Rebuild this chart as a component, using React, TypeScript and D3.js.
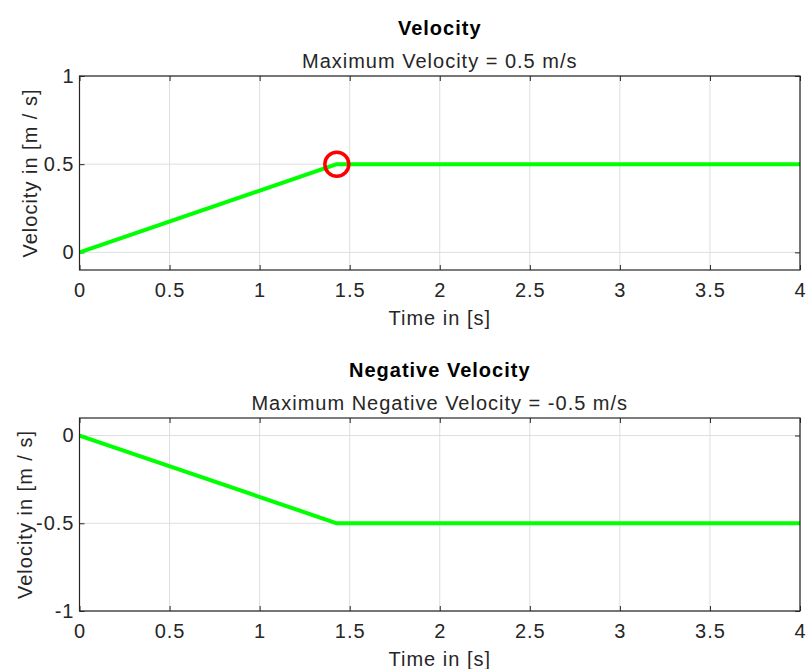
import * as d3 from "d3"
import React, { useRef, useEffect } from 'react';

// data
const timePts = [0, 1.4286, 4];
const velPos = [0, 0.5, 0.5];
const velNeg = [0, -0.5, -0.5];
const peakT = 1.4286;
const peakV = 0.5;
const xTicks = [0, 0.5, 1, 1.5, 2, 2.5, 3, 3.5, 4];
const yTicksTop = [0, 0.5, 1];
const yTicksBottom = [-1, -0.5, 0];

const W = 808;
const H = 669;
const FONT = "'Liberation Sans', Arial, Helvetica, sans-serif";
const TXT = '#262626';

interface PanelCfg {
    top: number;
    bottom: number;
    yDomain: [number, number];
    yTicks: number[];
    values: number[];
    title: string;
    subtitle: string;
    marker: boolean;
    ylabelX: number;
}

const App: React.FC = () => {
    const svgRef = useRef<SVGSVGElement | null>(null);

    useEffect(() => {
        const svg = d3.select(svgRef.current);
        svg.selectAll('*').remove();
        svg.append('rect').attr('width', W).attr('height', H).attr('fill', '#fff');

        const l = 79.5;
        const r = 800;
        const x = d3.scaleLinear().domain([0, 4]).range([l, r]);

        const panels: PanelCfg[] = [
            { top: 76, bottom: 270, yDomain: [-0.1, 1], yTicks: yTicksTop, values: velPos,
              title: 'Velocity', subtitle: 'Maximum Velocity = 0.5 m/s', marker: true, ylabelX: 37 },
            { top: 418, bottom: 611, yDomain: [-1, 0.1], yTicks: yTicksBottom, values: velNeg,
              title: 'Negative Velocity', subtitle: 'Maximum Negative Velocity = -0.5 m/s', marker: false, ylabelX: 32 },
        ];

        panels.forEach((p) => {
            const y = d3.scaleLinear().domain(p.yDomain).range([p.bottom, p.top]);
            const g = svg.append('g');
            const cx = (l + r) / 2;

            // grid
            g.selectAll('.gx').data(xTicks).enter().append('line')
                .attr('x1', d => x(d)).attr('x2', d => x(d))
                .attr('y1', p.top).attr('y2', p.bottom)
                .attr('stroke', '#dedede').attr('stroke-width', 1);
            g.selectAll('.gy').data(p.yTicks).enter().append('line')
                .attr('x1', l).attr('x2', r)
                .attr('y1', d => y(d)).attr('y2', d => y(d))
                .attr('stroke', '#dedede').attr('stroke-width', 1);

            // axes (ticks point inward)
            const styleAxis = (a: d3.Selection<SVGGElement, unknown, null, undefined>) => {
                a.select('.domain').remove();
                a.selectAll('line').attr('stroke', TXT);
                a.selectAll('text').attr('fill', TXT).style('font-family', FONT)
                    .style('font-size', '20px').style('letter-spacing', '1px');
            };
            const xb = g.append('g').attr('transform', `translate(0,${p.bottom})`)
                .call(d3.axisBottom(x).tickValues(xTicks).tickSizeInner(-5).tickSizeOuter(0)
                    .tickPadding(13).tickFormat(d => String(d)));
            styleAxis(xb);
            const xt = g.append('g').attr('transform', `translate(0,${p.top})`)
                .call(d3.axisTop(x).tickValues(xTicks).tickSizeInner(-5).tickSizeOuter(0).tickFormat(() => ''));
            styleAxis(xt);
            const yl = g.append('g').attr('transform', `translate(${l},0)`)
                .call(d3.axisLeft(y).tickValues(p.yTicks).tickSizeInner(-5).tickSizeOuter(0)
                    .tickPadding(5).tickFormat(d => String(d)));
            styleAxis(yl);
            const yr = g.append('g').attr('transform', `translate(${r},0)`)
                .call(d3.axisRight(y).tickValues(p.yTicks).tickSizeInner(-5).tickSizeOuter(0).tickFormat(() => ''));
            styleAxis(yr);

            // line
            const line = d3.line<number>().x((d, i) => x(timePts[i])).y(d => y(d));
            g.append('path').datum(p.values)
                .attr('d', line)
                .attr('fill', 'none')
                .attr('stroke', '#00ff00')
                .attr('stroke-width', 4)
                .attr('stroke-linejoin', 'round');

            if (p.marker) {
                g.append('circle')
                    .attr('cx', x(peakT)).attr('cy', y(peakV)).attr('r', 12)
                    .attr('fill', 'none').attr('stroke', '#ff0000').attr('stroke-width', 3.5);
            }

            // box
            g.append('rect')
                .attr('x', l).attr('y', p.top)
                .attr('width', r - l).attr('height', p.bottom - p.top)
                .attr('fill', 'none').attr('stroke', TXT).attr('stroke-width', 1.2);

            // titles and labels
            const label = (s: d3.Selection<SVGTextElement, unknown, null, undefined>) =>
                s.attr('text-anchor', 'middle').attr('fill', TXT)
                    .style('font-family', FONT).style('font-size', '20px').style('letter-spacing', '1px');
            g.append('text').attr('x', cx).attr('y', p.top - 41)
                .call(label).attr('fill', '#000').style('font-weight', 'bold')
                .text(p.title);
            g.append('text').attr('x', cx).attr('y', p.top - 8)
                .call(label)
                .text(p.subtitle);
            g.append('text').attr('x', cx).attr('y', p.bottom + 55)
                .call(label)
                .text('Time in [s]');
            g.append('text')
                .attr('transform', `translate(${p.ylabelX},${(p.top + p.bottom) / 2}) rotate(-90)`)
                .call(label)
                .text('Velocity in [m / s]');
        });
    }, []);

    return (
        <svg ref={svgRef} width={W} height={H}
            style={{ position: 'absolute', left: 0, top: 0, display: 'block' }}></svg>
    );
};

export default App;
